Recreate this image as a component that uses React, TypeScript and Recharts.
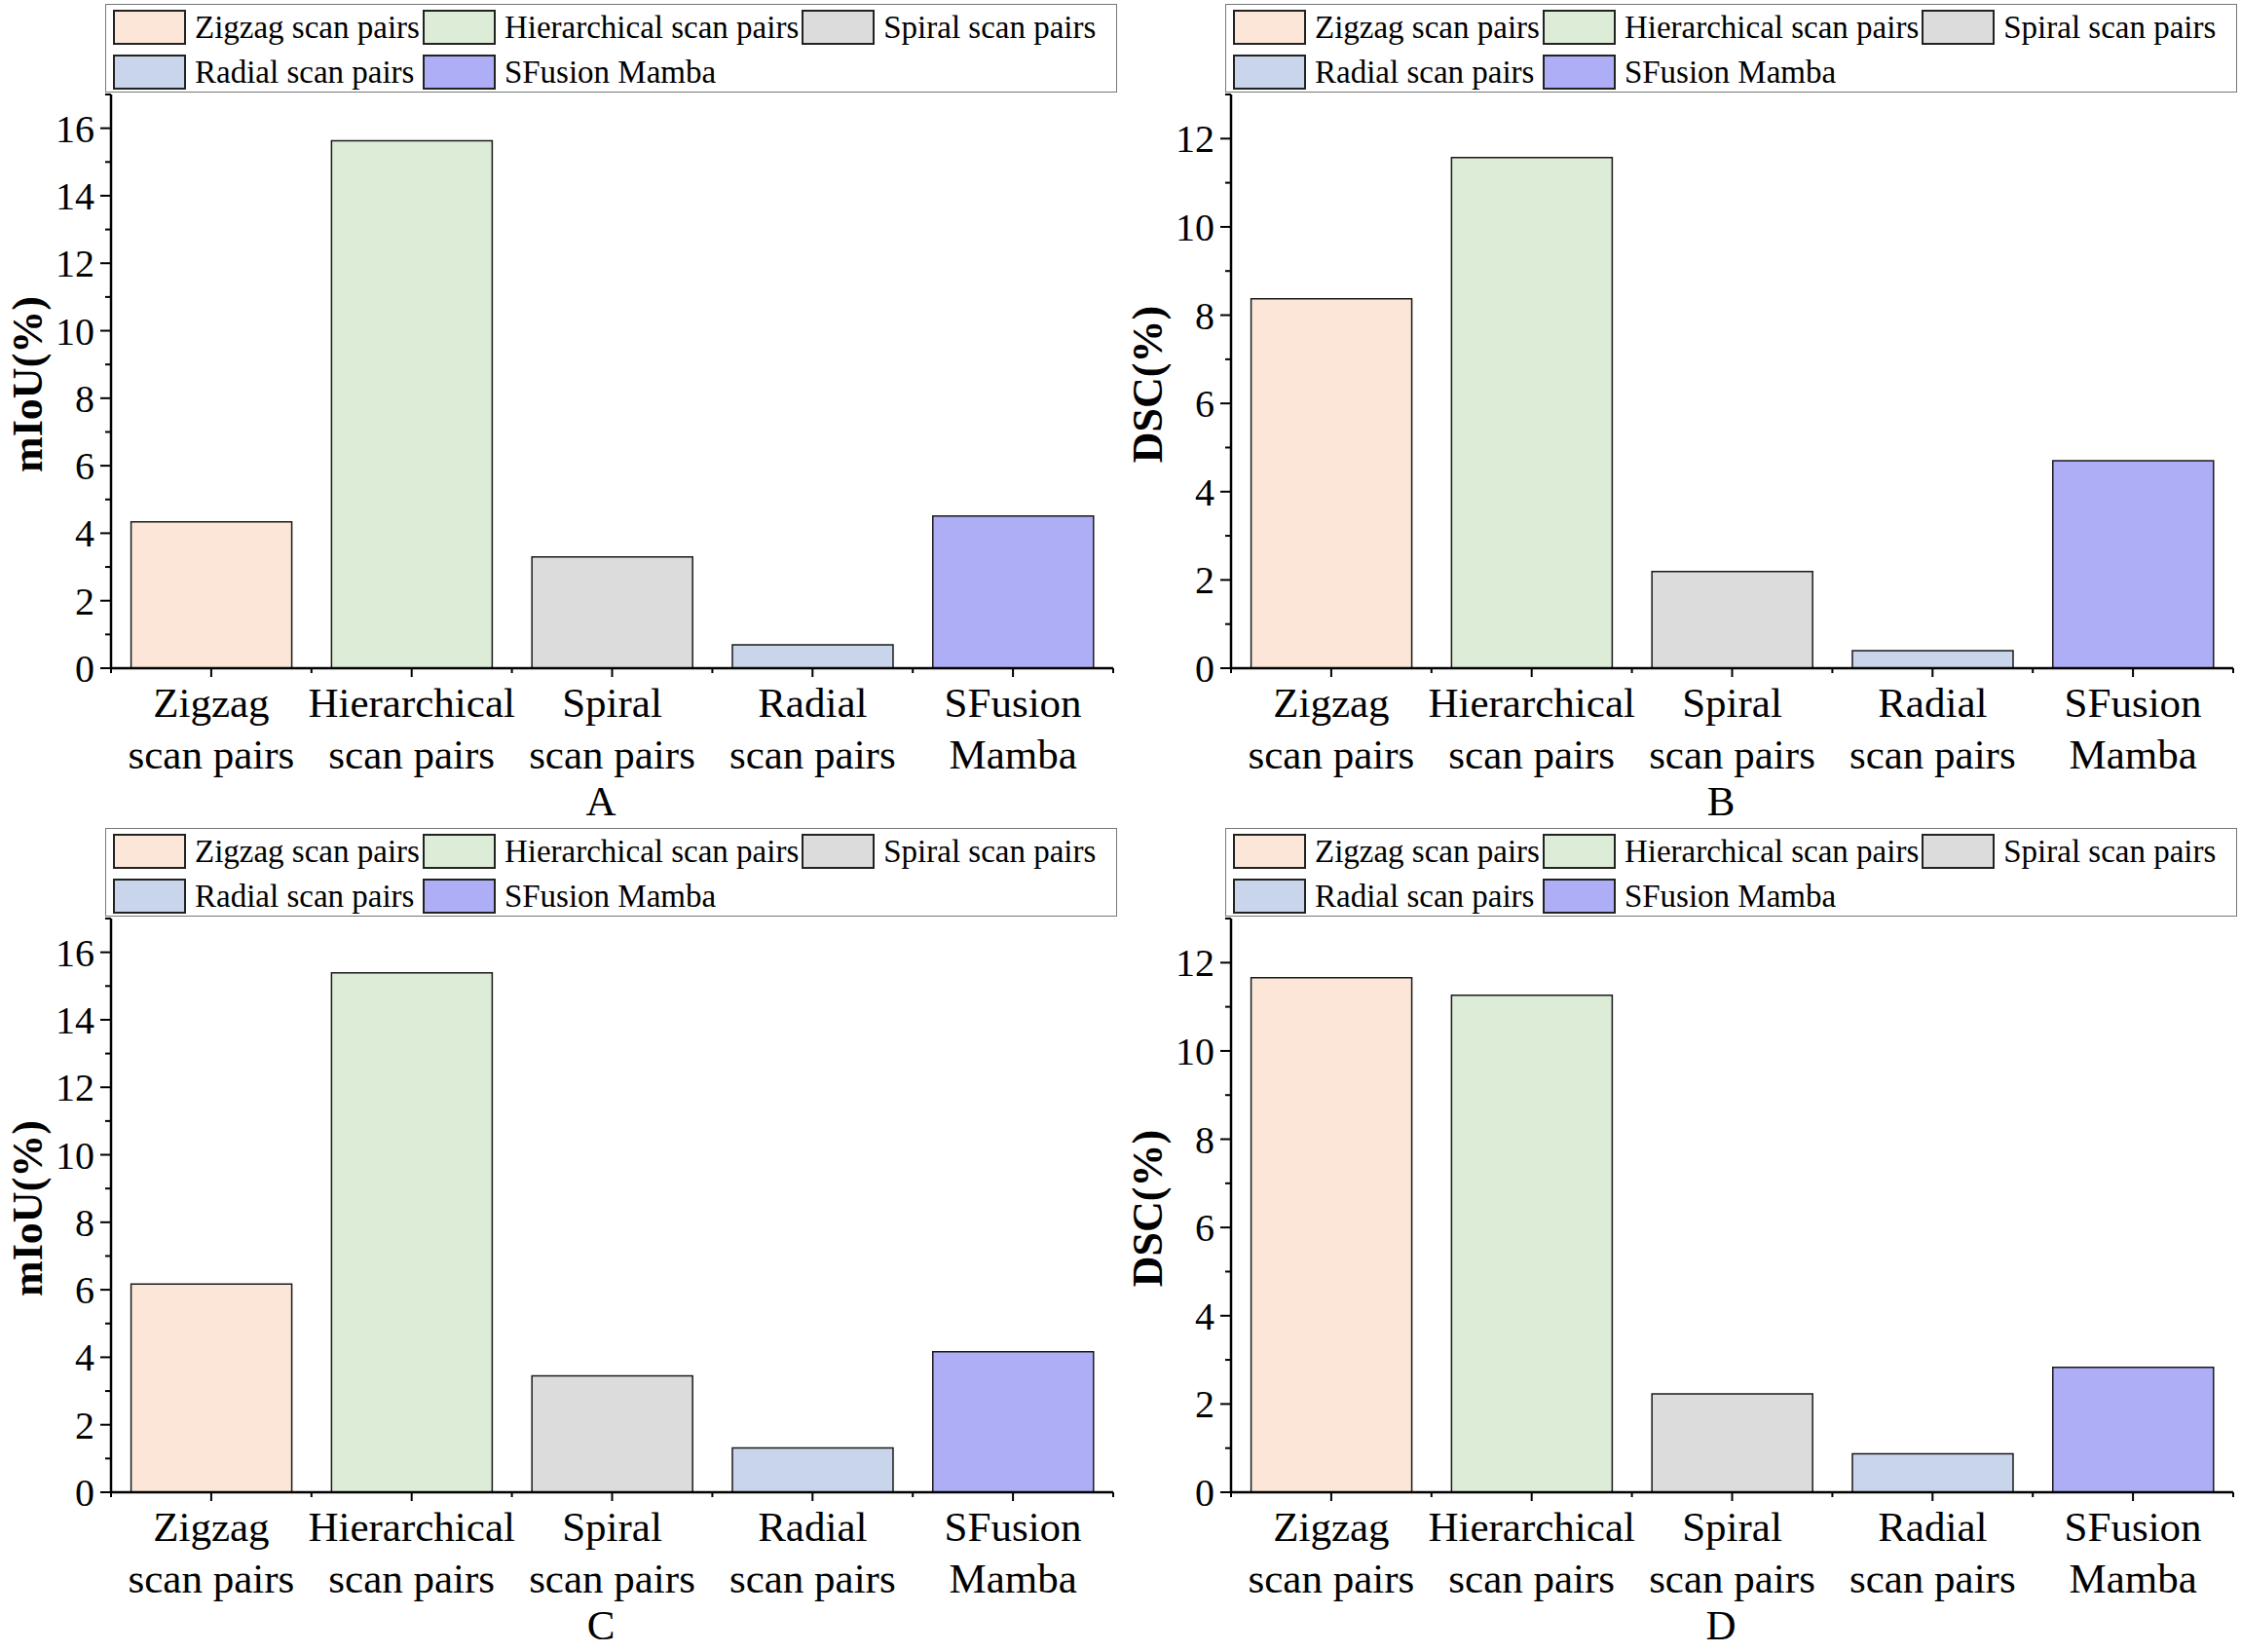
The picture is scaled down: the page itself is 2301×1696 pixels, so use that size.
import { BarChart, Bar, Cell, XAxis, YAxis, Legend } from 'recharts';

const CATEGORIES = [
  'Zigzag scan pairs',
  'Hierarchical scan pairs',
  'Spiral scan pairs',
  'Radial scan pairs',
  'SFusion Mamba',
];

const TICK_LINES = [
  ['Zigzag', 'scan pairs'],
  ['Hierarchical', 'scan pairs'],
  ['Spiral', 'scan pairs'],
  ['Radial', 'scan pairs'],
  ['SFusion', 'Mamba'],
];

const COLORS = ['#fbe6d8', '#ddecd6', '#dcdcdc', '#c9d5eb', '#aeaef7'];

// mIoU(%) and DSC(%)
const MIOU_A = [4.34, 15.63, 3.3, 0.69, 4.51];
const DSC_B = [8.37, 11.57, 2.19, 0.4, 4.7];
const MIOU_C = [6.17, 15.39, 3.45, 1.31, 4.16];
const DSC_D = [11.66, 11.26, 2.23, 0.87, 2.83];

const MIOU_TICKS = [0, 1, 2, 3, 4, 5, 6, 7, 8, 9, 10, 11, 12, 13, 14, 15, 16, 17];
const DSC_TICKS = [0, 1, 2, 3, 4, 5, 6, 7, 8, 9, 10, 11, 12, 13];

const FONT = "'Liberation Serif', 'Times New Roman', serif";
const W = 1150;
const H = 846;
const PLOT_LEFT = 114;
const PLOT_RIGHT = 1143;
const BAND = (PLOT_RIGHT - PLOT_LEFT) / CATEGORIES.length;

function YTick(props: any) {
  const { x, y, payload } = props;
  const major = payload.value % 2 === 0;
  return (
    <g>
      <line x1={x} x2={x - (major ? 11 : 6)} y1={y} y2={y} stroke="#000" strokeWidth={2} />
      {major && (
        <text x={x - 17} y={y} dy={14} textAnchor="end" fontSize={40} fontFamily={FONT} fill="#000">
          {payload.value}
        </text>
      )}
    </g>
  );
}

function XTick(props: any) {
  const { x, y, payload } = props;
  const idx = CATEGORIES.indexOf(payload.value);
  const lines = TICK_LINES[idx] || [payload.value, ''];
  const last = idx === CATEGORIES.length - 1;
  return (
    <g>
      <line x1={x} x2={x} y1={y} y2={y + 9} stroke="#000" strokeWidth={2} />
      <line x1={x - BAND / 2} x2={x - BAND / 2} y1={y} y2={y + 5} stroke="#000" strokeWidth={2} />
      {last && <line x1={x + BAND / 2} x2={x + BAND / 2} y1={y} y2={y + 5} stroke="#000" strokeWidth={2} />}
      <text x={x} y={y + 50} textAnchor="middle" fontSize={43} fontFamily={FONT} fill="#000">
        {lines[0]}
      </text>
      <text x={x} y={y + 103} textAnchor="middle" fontSize={43} fontFamily={FONT} fill="#000">
        {lines[1]}
      </text>
    </g>
  );
}

function LegendBox() {
  return (
    <div
      style={{
        position: 'absolute',
        left: 108,
        top: 4,
        width: 1039,
        height: 91,
        boxSizing: 'border-box',
        border: '1.5px solid #777',
        padding: '5px 0 0 7px',
        display: 'grid',
        gridTemplateColumns: 'auto auto auto',
        justifyContent: 'start',
        columnGap: 3,
        rowGap: 7,
        fontFamily: FONT,
        fontSize: 33,
        color: '#000',
        background: '#fff',
      }}
    >
      {CATEGORIES.map((name, i) => (
        <div key={name} style={{ display: 'flex', alignItems: 'center', height: 36, whiteSpace: 'nowrap' }}>
          <span
            style={{
              display: 'inline-block',
              width: 75,
              height: 36,
              boxSizing: 'border-box',
              border: '2px solid #222',
              background: COLORS[i],
              marginRight: 9,
            }}
          />
          <span style={{ lineHeight: '36px' }}>{name}</span>
        </div>
      ))}
    </div>
  );
}

type PanelProps = {
  values: number[];
  ticks: number[];
  yLabel: string;
  letter: string;
  left: number;
  top: number;
};

function Panel({ values, ticks, yLabel, letter, left, top }: PanelProps) {
  const data = CATEGORIES.map((name, i) => ({ name, value: values[i] }));
  const yMax = ticks[ticks.length - 1];
  return (
    <div style={{ position: 'absolute', left, top, width: W, height: H }}>
      <BarChart
        width={W}
        height={H}
        data={data}
        margin={{ top: 97, right: W - PLOT_RIGHT, left: PLOT_LEFT - 80, bottom: 0 }}
        barCategoryGap="10%"
      >
        <Legend
          verticalAlign="middle"
          align="center"
          layout="horizontal"
          content={() => <LegendBox />}
          wrapperStyle={{ left: 0, top: 0, width: 0, height: 0 }}
        />
        <XAxis
          dataKey="name"
          type="category"
          height={H - 686}
          interval={0}
          tickSize={0}
          tickMargin={0}
          tick={(p: any) => <XTick {...p} />}
          axisLine={{ stroke: '#000', strokeWidth: 2.5 }}
          label={{
            content: (p: any) => {
              const vb = p.viewBox || { x: PLOT_LEFT, y: 686 };
              return (
                <text x={vb.x + 503} y={vb.y + 151} textAnchor="middle" fontSize={43} fontFamily={FONT} fill="#000">
                  {letter}
                </text>
              );
            },
          }}
        />
        <XAxis
          xAxisId="top"
          dataKey="name"
          orientation="top"
          height={0}
          tick={false}
          tickLine={false}
          axisLine={{ stroke: '#000', strokeWidth: 2.5 }}
        />
        <YAxis
          type="number"
          domain={[0, yMax]}
          ticks={ticks}
          interval={0}
          width={80}
          tickSize={0}
          tickMargin={0}
          tick={(p: any) => <YTick {...p} />}
          axisLine={{ stroke: '#000', strokeWidth: 2.5 }}
          label={{
            content: (p: any) => {
              const vb = p.viewBox || { x: PLOT_LEFT - 80, y: 97, height: 589 };
              const cx = vb.x + 9;
              const cy = vb.y + vb.height / 2 + 3;
              return (
                <text
                  x={cx}
                  y={cy}
                  transform={`rotate(-90, ${cx}, ${cy})`}
                  textAnchor="middle"
                  fontSize={44}
                  fontWeight="bold"
                  fontFamily={FONT}
                  fill="#000"
                >
                  {yLabel}
                </text>
              );
            },
          }}
        />
        <YAxis
          yAxisId="right"
          orientation="right"
          type="number"
          domain={[0, yMax]}
          width={0}
          tick={false}
          tickLine={false}
          axisLine={{ stroke: '#000', strokeWidth: 2.5 }}
        />
        <Bar dataKey="value" stroke="#1a1a1a" strokeWidth={1.5} isAnimationActive={false}>
          {data.map((_, i) => (
            <Cell key={i} fill={COLORS[i]} />
          ))}
        </Bar>
      </BarChart>
    </div>
  );
}

export default function App() {
  return (
    <div
      style={{
        position: 'absolute',
        left: 0,
        top: 0,
        width: 2301,
        height: 1696,
        background: '#fff',
        overflow: 'hidden',
      }}
    >
      <Panel values={MIOU_A} ticks={MIOU_TICKS} yLabel="mIoU(%)" letter="A" left={0} top={0} />
      <Panel values={DSC_B} ticks={DSC_TICKS} yLabel="DSC(%)" letter="B" left={1150} top={0} />
      <Panel values={MIOU_C} ticks={MIOU_TICKS} yLabel="mIoU(%)" letter="C" left={0} top={846} />
      <Panel values={DSC_D} ticks={DSC_TICKS} yLabel="DSC(%)" letter="D" left={1150} top={846} />
    </div>
  );
}
